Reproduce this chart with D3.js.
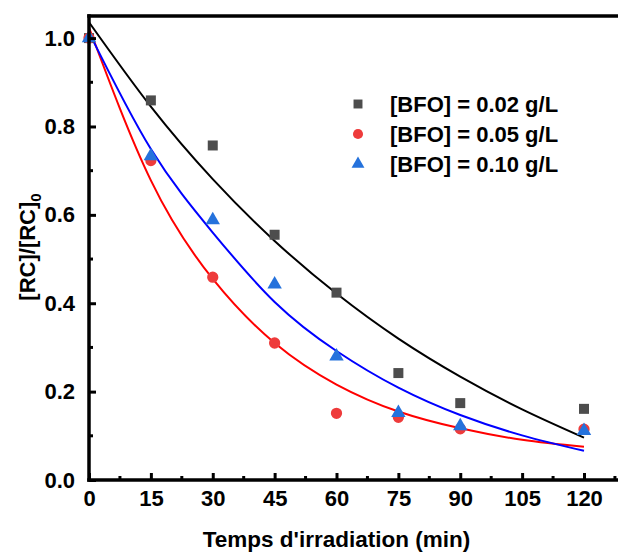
<!DOCTYPE html>
<html>
<head>
<meta charset="utf-8">
<script src="https://cdn.jsdelivr.net/npm/d3@7/dist/d3.min.js"></script>
<style>
  html, body { margin: 0; padding: 0; background: #fff; }
  svg { display: block; font-family: "Liberation Sans", Arial, sans-serif; font-weight: bold; }
</style>
</head>
<body>
<svg id="chart" width="618" height="554"></svg>
<script>
// Measured points: irradiation time (min) and normalised concentration [RC]/[RC]0
const times = [0, 15, 30, 45, 60, 75, 90, 120];
const bfo002 = [1.0, 0.859, 0.757, 0.555, 0.424, 0.242, 0.174, 0.161];
const bfo005 = [1.0, 0.723, 0.459, 0.310, 0.151, 0.142, 0.116, 0.115];
const bfo010 = [1.0, 0.733, 0.588, 0.443, 0.280, 0.152, 0.122, 0.111];

// Kinetic fit curves, sampled along time
const fitTimes = [0, 15, 30, 45, 60, 75, 90, 105, 120];
const fit002 = [1.036, 0.845, 0.681, 0.541, 0.422, 0.320, 0.234, 0.160, 0.096];
const fit005 = [1.024, 0.678, 0.455, 0.310, 0.216, 0.155, 0.117, 0.091, 0.075];
const fit010 = [1.013, 0.749, 0.560, 0.403, 0.292, 0.209, 0.147, 0.101, 0.066];

const seriesNames = ["[BFO] = 0.02 g/L", "[BFO] = 0.05 g/L", "[BFO] = 0.10 g/L"];
const xTicks = [0, 15, 30, 45, 60, 75, 90, 105, 120];
const yTicks = [0.0, 0.2, 0.4, 0.6, 0.8, 1.0];

const svg = d3.select("#chart");
const plotLeft = 89, plotTop = 16, plotBottom = 480;
const pxPerMin = 4.125;

const x = d3.scaleLinear().domain([0, 135]).range([plotLeft, plotLeft + 135 * pxPerMin]);
const y = d3.scaleLinear().domain([0, 1.05]).range([plotBottom, plotTop]);

const series = [
  { name: seriesNames[0], pts: bfo002, fit: fit002, line: "#000000", fill: "#4d4d4d", sym: d3.symbolSquare, size: 100 },
  { name: seriesNames[1], pts: bfo005, fit: fit005, line: "#ff0000", fill: "#ee3b3b", sym: d3.symbolCircle, size: 100 },
  { name: seriesNames[2], pts: bfo010, fit: fit010, line: "#0000ff", fill: "#2572dc", sym: d3.symbolTriangle, size: 90 }
];

// Fit lines
const lineGen = d3.line().x(d => x(d[0])).y(d => y(d[1])).curve(d3.curveNatural);
series.forEach(s => {
  svg.append("path")
    .datum(fitTimes.map((t, i) => [t, s.fit[i]]))
    .attr("d", lineGen)
    .attr("fill", "none")
    .attr("stroke", s.line)
    .attr("stroke-width", 2);
});

// Markers
series.forEach(s => {
  svg.append("g").selectAll("path")
    .data(times.map((t, i) => [t, s.pts[i]]))
    .join("path")
    .attr("d", d3.symbol().type(s.sym).size(s.size))
    .attr("transform", d => `translate(${x(d[0])},${y(d[1])})`)
    .attr("fill", s.fill);
});

// Axes: ticks point inward
const axisW = 3.5;
const xAxis = d3.axisBottom(x).tickValues(xTicks).tickSize(-7).tickPadding(14).tickFormat(d3.format("d"));
const gx = svg.append("g").attr("transform", `translate(0,${plotBottom})`).call(xAxis);
gx.select(".domain").remove();
gx.selectAll(".tick line").attr("stroke", "#000").attr("stroke-width", 3);
gx.selectAll(".tick text").attr("font-size", 22).attr("fill", "#000").attr("dy", "0.55em");

// minor x ticks
svg.append("g").selectAll("line")
  .data(d3.range(7.5, 140, 15))
  .join("line")
  .attr("x1", d => x(d)).attr("x2", d => x(d))
  .attr("y1", plotBottom).attr("y2", plotBottom - 4)
  .attr("stroke", "#000").attr("stroke-width", 3);

const yAxis = d3.axisLeft(y).tickValues(yTicks).tickSize(-7).tickPadding(14).tickFormat(d3.format(".1f"));
const gy = svg.append("g").attr("transform", `translate(${plotLeft},0)`).call(yAxis);
gy.select(".domain").remove();
gy.selectAll(".tick line").attr("stroke", "#000").attr("stroke-width", 3);
gy.selectAll(".tick text").attr("font-size", 22).attr("fill", "#000");

// minor y ticks
svg.append("g").selectAll("line")
  .data(d3.range(0.1, 1.0, 0.2))
  .join("line")
  .attr("x1", plotLeft).attr("x2", plotLeft + 4)
  .attr("y1", d => y(d)).attr("y2", d => y(d))
  .attr("stroke", "#000").attr("stroke-width", 3);

// frame lines
svg.append("line").attr("x1", plotLeft).attr("x2", 640).attr("y1", plotBottom).attr("y2", plotBottom)
  .attr("stroke", "#000").attr("stroke-width", axisW).attr("stroke-linecap", "square");
svg.append("line").attr("x1", plotLeft).attr("x2", 640).attr("y1", plotTop).attr("y2", plotTop)
  .attr("stroke", "#000").attr("stroke-width", axisW).attr("stroke-linecap", "square");
svg.append("line").attr("x1", plotLeft).attr("x2", plotLeft).attr("y1", plotTop).attr("y2", plotBottom)
  .attr("stroke", "#000").attr("stroke-width", axisW).attr("stroke-linecap", "square");

// Axis titles
svg.append("text")
  .attr("x", plotLeft + 60 * pxPerMin).attr("y", 547)
  .attr("text-anchor", "middle").attr("font-size", 22.5)
  .text("Temps d'irradiation (min)");

const yt = svg.append("text")
  .attr("transform", `translate(35,247) rotate(-90)`)
  .attr("text-anchor", "middle").attr("font-size", 22);
yt.append("tspan").text("[RC]/[RC]");
yt.append("tspan").attr("font-size", 15).attr("dy", 6).text("0");

// Legend
const legend = svg.append("g");
series.forEach((s, i) => {
  const ly = 104 + i * 30;
  legend.append("path")
    .attr("d", d3.symbol().type(s.sym).size(s.size * 0.8))
    .attr("transform", `translate(358,${ly})`)
    .attr("fill", s.fill);
  legend.append("text")
    .attr("x", 390).attr("y", ly + 8)
    .attr("font-size", 22)
    .text(s.name);
});
</script>
</body>
</html>
